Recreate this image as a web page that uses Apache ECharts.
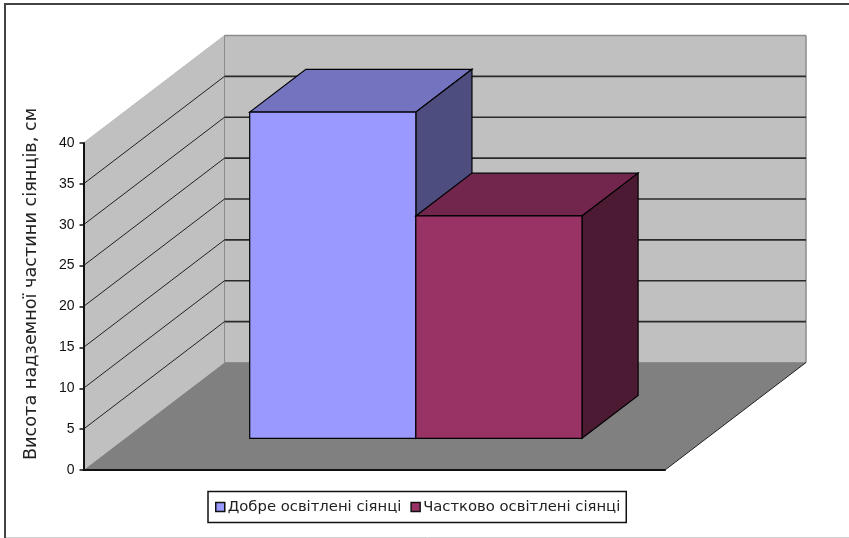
<!DOCTYPE html>
<html>
<head>
<meta charset="utf-8">
<style>html,body{margin:0;padding:0;background:#fff}#chart{width:849px;height:538px}</style>
<script src="https://cdn.jsdelivr.net/npm/echarts@6/dist/echarts.min.js"></script>
</head>
<body>
<div id="chart"></div>
<script>
// Plant height under two lighting conditions, drawn as an oblique 3D column chart.
const categories = [''];
const seriesNames = ['Добре освітлені сіянці', 'Частково освітлені сіянці'];
const wellLitValues = [39.9];
const partlyLitValues = [27.2];
const axisTitle = 'Висота надземної частини сіянців, см';
const axisMin = 0;
const axisMax = 40;
const axisStep = 5;
const gridValues = [5, 10, 15, 20, 25, 30, 35];

// Oblique projection: how far the back of the floor shifts from the front plane, in pixels.
const DEPTH_X = 141;
const DEPTH_Y = 107.5;
// Columns sit between these fractions of the floor depth.
const COLUMN_FRONT = 0.295;
const COLUMN_BACK = 0.693;
// Total empty width in the band, in units of one column width.
const GAP_RATIO = 1.5;

const WALL = '#c0c0c0';
const FLOOR = '#808080';
const WALL_EDGE = '#8c8c8c';

function shift(p, d) { return [p[0] + DEPTH_X * d, p[1] - DEPTH_Y * d]; }

function polygon(points, fill, stroke, width) {
  return {
    type: 'polygon',
    shape: { points: points },
    style: { fill: fill, stroke: stroke || null, lineWidth: width || 0 }
  };
}
function segment(a, b, color, width) {
  return {
    type: 'line',
    shape: { x1: a[0], y1: a[1], x2: b[0], y2: b[1] },
    style: { stroke: color, lineWidth: width }
  };
}

// Walls, floor and gridlines.
function renderRoom(params, api) {
  const bl = api.coord([0, axisMin]);
  const tl = api.coord([0, axisMax]);
  const band = api.size([1, 0])[0];
  const left = bl[0] - band / 2;
  const right = bl[0] + band / 2;
  const fl = [left, bl[1]], ft = [left, tl[1]], fr = [right, bl[1]];
  const children = [
    polygon([fl, ft, shift(ft, 1), shift(fl, 1)], WALL),
    polygon([shift(fl, 1), shift(ft, 1), shift([right, tl[1]], 1), shift(fr, 1)], WALL),
    polygon([fl, fr, shift(fr, 1), shift(fl, 1)], FLOOR),
    segment(ft, shift(ft, 1), '#bdbdbd', 1),
    segment(shift(ft, 1), shift(fl, 1), WALL_EDGE, 1),
    segment(shift(ft, 1), shift([right, tl[1]], 1), WALL_EDGE, 1.5),
    segment(shift([right, tl[1]], 1), shift(fr, 1), WALL_EDGE, 1.5),
    segment(shift(fl, 1), shift(fr, 1), WALL_EDGE, 1),
    segment(fr, shift(fr, 1), '#222', 1)
  ];
  gridValues.forEach(function (v) {
    const y = api.coord([0, v])[1];
    children.push(segment([left, y], shift([left, y], 1), '#222', 1));
    children.push(segment(shift([left, y], 1), shift([right, y], 1), '#2a2a2a', 1.6));
  });
  return { type: 'group', children: children };
}

// One column: front, top and side faces.
function columnRenderer(index, front, top, side) {
  return function (params, api) {
    const c = api.coord([api.value(0), api.value(1)]);
    const base = api.coord([api.value(0), axisMin]);
    const band = api.size([1, 0])[0];
    const w = band / (seriesNames.length + GAP_RATIO);
    const x0 = c[0] - w * seriesNames.length / 2 + index * w;
    const x1 = x0 + w;
    const p = function (x, y, d) { return shift([x, y], d); };
    const a = COLUMN_FRONT, b = COLUMN_BACK;
    return {
      type: 'group',
      children: [
        polygon([p(x0, c[1], a), p(x1, c[1], a), p(x1, c[1], b), p(x0, c[1], b)], top, '#000', 1.2),
        polygon([p(x1, base[1], a), p(x1, c[1], a), p(x1, c[1], b), p(x1, base[1], b)], side, '#000', 1.2),
        polygon([p(x0, base[1], a), p(x1, base[1], a), p(x1, c[1], a), p(x0, c[1], a)], front, '#000', 1.2)
      ]
    };
  };
}

const chart = echarts.init(document.getElementById('chart'), null, { renderer: 'canvas' });
chart.setOption({
  animation: false,
  backgroundColor: '#ffffff',
  textStyle: { fontFamily: 'Liberation Sans' },
  grid: { left: 83.5, right: 184, top: 143, bottom: 68, containLabel: false },
  xAxis: {
    type: 'category',
    data: categories,
    z: 6,
    axisLine: { show: true, lineStyle: { color: '#111', width: 2 } },
    axisTick: { show: false },
    axisLabel: { show: false },
    splitLine: { show: false }
  },
  yAxis: {
    type: 'value',
    min: axisMin,
    max: axisMax,
    interval: axisStep,
    z: 6,
    name: axisTitle,
    nameLocation: 'middle',
    nameGap: 43,
    nameRotate: 90,
    nameTextStyle: { color: '#222', fontSize: 17.7, fontFamily: 'DejaVu Sans', padding: [0, 0, 0, 45] },
    axisLine: { show: true, lineStyle: { color: '#111', width: 2 } },
    axisTick: { show: true, length: 4, lineStyle: { color: '#111', width: 1.5 } },
    axisLabel: { color: '#111', fontSize: 14, margin: 9 },
    splitLine: { show: false }
  },
  legend: {
    left: 208,
    top: 491.5,
    itemWidth: 9,
    itemHeight: 9,
    itemGap: 9,
    icon: 'rect',
    padding: [8, 6, 8, 7],
    borderColor: '#111',
    borderWidth: 1.5,
    backgroundColor: '#fff',
    selectedMode: false,
    data: seriesNames.map(function (n) { return { name: n, itemStyle: { borderColor: '#111', borderWidth: 1.5 } }; }),
    textStyle: { color: '#222', fontSize: 14.8, fontFamily: 'DejaVu Sans', padding: [0, 0, 0, -2] }
  },
  graphic: [
    { type: 'line', silent: true, shape: { x1: 4, y1: 4, x2: 849, y2: 4 }, style: { stroke: '#444', lineWidth: 2 } },
    { type: 'line', silent: true, shape: { x1: 5, y1: 3, x2: 5, y2: 538 }, style: { stroke: '#444', lineWidth: 2 } },
    { type: 'line', silent: true, shape: { x1: 6, y1: 537.5, x2: 849, y2: 537.5 }, style: { stroke: '#cfcfcf', lineWidth: 1 } }
  ],
  series: [
    { type: 'custom', name: '__room', z: 1, silent: true, renderItem: renderRoom, data: [[0, axisMax]], encode: { x: 0, y: 1 } },
    {
      type: 'custom', name: seriesNames[0], z: 2, silent: true,
      itemStyle: { color: '#9999ff' },
      renderItem: columnRenderer(0, '#9999ff', '#7373bf', '#4d4d80'),
      data: [[0, wellLitValues[0]]], encode: { x: 0, y: 1 }
    },
    {
      type: 'custom', name: seriesNames[1], z: 3, silent: true,
      itemStyle: { color: '#993366' },
      renderItem: columnRenderer(1, '#993366', '#73264d', '#4d1a33'),
      data: [[0, partlyLitValues[0]]], encode: { x: 0, y: 1 }
    }
  ]
});
</script>
</body>
</html>
